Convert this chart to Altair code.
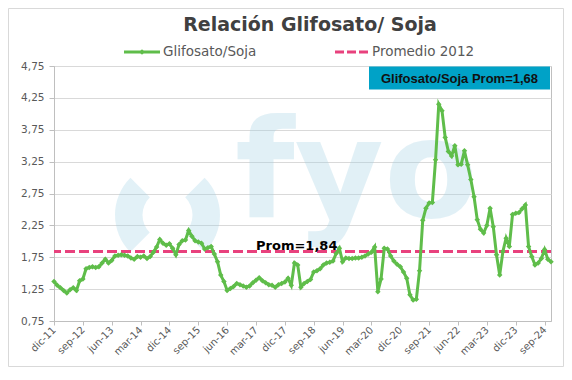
import altair as alt
import pandas as pd

# ---- data (monthly, dic-11 .. nov-24) ----
RATIO = [
    1.37, 1.31, 1.27, 1.23, 1.19, 1.24, 1.27, 1.23, 1.38, 1.41,
    1.57, 1.59, 1.60, 1.59, 1.60, 1.66, 1.72, 1.66, 1.70, 1.77,
    1.78, 1.79, 1.78, 1.77, 1.74, 1.72, 1.76, 1.75, 1.77, 1.73,
    1.76, 1.83, 1.91, 2.03, 1.97, 1.94, 1.96, 1.89, 1.79, 1.95,
    2.01, 2.02, 2.17, 2.08, 2.01, 1.99, 1.97, 1.88, 1.90, 1.92,
    1.80, 1.68, 1.47, 1.37, 1.23, 1.26, 1.29, 1.34, 1.32, 1.30,
    1.28, 1.30, 1.35, 1.39, 1.43, 1.38, 1.35, 1.32, 1.31, 1.28,
    1.32, 1.34, 1.36, 1.42, 1.31, 1.66, 1.63, 1.28, 1.34, 1.37,
    1.40, 1.52, 1.54, 1.57, 1.63, 1.66, 1.67, 1.69, 1.81, 1.89,
    1.68, 1.74, 1.73, 1.73, 1.74, 1.74, 1.75, 1.77, 1.80, 1.83,
    1.91, 1.21, 1.41, 1.89, 1.88, 1.77, 1.69, 1.64, 1.60, 1.52,
    1.42, 1.16, 1.08, 1.09, 1.54, 2.33, 2.52, 2.60, 2.61, 3.28,
    4.15, 4.05, 3.63, 3.41, 3.34, 3.50, 3.20, 3.21, 3.42, 3.20,
    2.97, 2.70, 2.34, 2.19, 2.13, 2.25, 2.52, 2.23, 1.79, 1.47,
    1.84, 2.05, 1.92, 2.42, 2.44, 2.45, 2.51, 2.57, 1.92, 1.76,
    1.63, 1.66, 1.73, 1.87, 1.72, 1.68,
]
PROM_2012 = 1.84
PROM_LABEL = "Prom=1,84"
BOX_LABEL = "Glifosato/Soja Prom=1,68"
TITLE = "Relación Glifosato/ Soja"
SERIES_NAME = "Glifosato/Soja"
AVG_NAME = "Promedio 2012"
Y_TICKS = [0.75, 1.25, 1.75, 2.25, 2.75, 3.25, 3.75, 4.25, 4.75]
TICK_LABELS = ["dic-11", "sep-12", "jun-13", "mar-14", "dic-14", "sep-15",
               "jun-16", "mar-17", "dic-17", "sep-18", "jun-19", "mar-20",
               "dic-20", "sep-21", "jun-22", "mar-23", "dic-23", "sep-24"]
TICK_STEP = 9

GREEN = "#5fbd4a"
PINK = "#e8417d"
TEAL = "#00a2c7"
WM = "#9fd0e3"

df = pd.DataFrame({"i": list(range(len(RATIO))), "ratio": RATIO})
one = pd.DataFrame({"a": [0]})

W, H = 497, 255
xscale = alt.Scale(domain=[0, len(RATIO) - 1], nice=False, zero=False)
yscale = alt.Scale(domain=[Y_TICKS[0], Y_TICKS[-1]], nice=False, zero=False)

label_arr = "[" + ",".join("'%s'" % s for s in TICK_LABELS) + "]"
x_axis = alt.Axis(
    values=[k * TICK_STEP for k in range(len(TICK_LABELS))],
    tickCount=len(TICK_LABELS),
    labelExpr=label_arr + "[round(datum.value/%d)]" % TICK_STEP,
    labelAngle=315, labelAlign="right", labelBaseline="middle",
    labelPadding=3, labelOverlap=False, labelFlush=False, labelBound=False,
    grid=False, domainColor="#bfbfbf", tickColor="#bfbfbf", tickSize=4,
    labelColor="#595959", labelFont="DejaVu Sans", labelFontSize=10,
)
y_axis = alt.Axis(
    values=Y_TICKS, tickCount=len(Y_TICKS),
    labelExpr="replace(format(datum.value, '.2f'), '.', ',')",
    labelOverlap=False, labelFlush=False, labelBound=False,
    gridColor="#d9d9d9", domainColor="#bfbfbf", tickColor="#bfbfbf",
    tickSize=5, labelPadding=5, labelColor="#595959",
    labelFont="DejaVu Sans", labelFontSize=10.5,
)

# outer frame
frame = alt.Chart(one).mark_rect(fill="white", fillOpacity=0, stroke="#d9d9d9", strokeWidth=1).encode(
    x=alt.value(-45.5), x2=alt.value(509.5), y=alt.value(-57.5), y2=alt.value(300.5))

# watermark
ring_l = alt.Chart(one).mark_arc(theta=3.93, theta2=5.50, outerRadius=52.5, innerRadius=25,
                                 color=WM, opacity=0.3).encode(x=alt.value(113.5), y=alt.value(149))
ring_r = alt.Chart(one).mark_arc(theta=0.785, theta2=2.356, outerRadius=52.5, innerRadius=25,
                                 color=WM, opacity=0.3).encode(x=alt.value(113.5), y=alt.value(149))
wm_text = alt.Chart(one).mark_text(text="fyo", font="DejaVu Sans", fontWeight="bold", fontSize=137,
                                   align="left", baseline="alphabetic", color=WM, opacity=0.3).encode(
    x=alt.value(181), y=alt.value(151))

avg = alt.Chart(pd.DataFrame({"prom": [PROM_2012]})).mark_rule(
    color=PINK, strokeWidth=3, strokeDash=[10, 4]).encode(y=alt.Y("prom:Q", scale=yscale, axis=y_axis, title=None))

line = alt.Chart(df).mark_line(
    color=GREEN, strokeWidth=3,
    point=alt.OverlayMarkDef(shape="diamond", size=30, filled=True, color=GREEN),
).encode(
    x=alt.X("i:Q", scale=xscale, axis=x_axis, title=None),
    y=alt.Y("ratio:Q", scale=yscale, axis=y_axis, title=None),
)

prom_txt = alt.Chart(pd.DataFrame({"xi": [75.7], "yv": [PROM_2012]})).mark_text(
    text=PROM_LABEL, font="DejaVu Sans", fontWeight="bold", fontSize=13, color="#000000",
    align="center", baseline="alphabetic", dy=-2).encode(
    x=alt.X("xi:Q", scale=xscale), y=alt.Y("yv:Q", scale=yscale))

box = alt.Chart(one).mark_rect(color=TEAL).encode(
    x=alt.value(315), x2=alt.value(496), y=alt.value(0.5), y2=alt.value(23.5))
box_txt = alt.Chart(one).mark_text(text=BOX_LABEL, font="Liberation Sans", fontWeight="bold", fontSize=13,
                                   color="#111111", align="center", baseline="alphabetic").encode(
    x=alt.value(405.5), y=alt.value(17))

title = alt.Chart(one).mark_text(text=TITLE, font="DejaVu Sans", fontWeight="bold", fontSize=19,
                                 color="#404040", align="center", baseline="alphabetic").encode(
    x=alt.value(256), y=alt.value(-35))

leg_line = alt.Chart(one).mark_rule(color=GREEN, strokeWidth=3).encode(
    x=alt.value(70), x2=alt.value(106), y=alt.value(-14))
leg_pt = alt.Chart(one).mark_point(shape="diamond", size=30, filled=True, color=GREEN, opacity=1).encode(
    x=alt.value(88), y=alt.value(-14))
leg_t1 = alt.Chart(one).mark_text(text=SERIES_NAME, font="DejaVu Sans", fontSize=13.5, color="#595959",
                                  align="left", baseline="middle").encode(x=alt.value(109), y=alt.value(-14))
leg_dash = alt.Chart(one).mark_rule(color=PINK, strokeWidth=3, strokeDash=[9, 3]).encode(
    x=alt.value(281), x2=alt.value(314), y=alt.value(-14))
leg_t2 = alt.Chart(one).mark_text(text=AVG_NAME, font="DejaVu Sans", fontSize=13.5, color="#595959",
                                  align="left", baseline="middle").encode(x=alt.value(318), y=alt.value(-14))

chart = alt.layer(
    frame, ring_l, ring_r, wm_text, avg, line, prom_txt, box, box_txt,
    title, leg_line, leg_pt, leg_t1, leg_dash, leg_t2,
).properties(
    width=W, height=H,
    autosize=alt.AutoSizeParams(type="none"),
    padding={"left": 46, "top": 58, "right": 13, "bottom": 46},
    background="white",
).configure_view(stroke="#bfbfbf")

chart.save("out.html", embed_options={"renderer": "svg", "actions": False})
